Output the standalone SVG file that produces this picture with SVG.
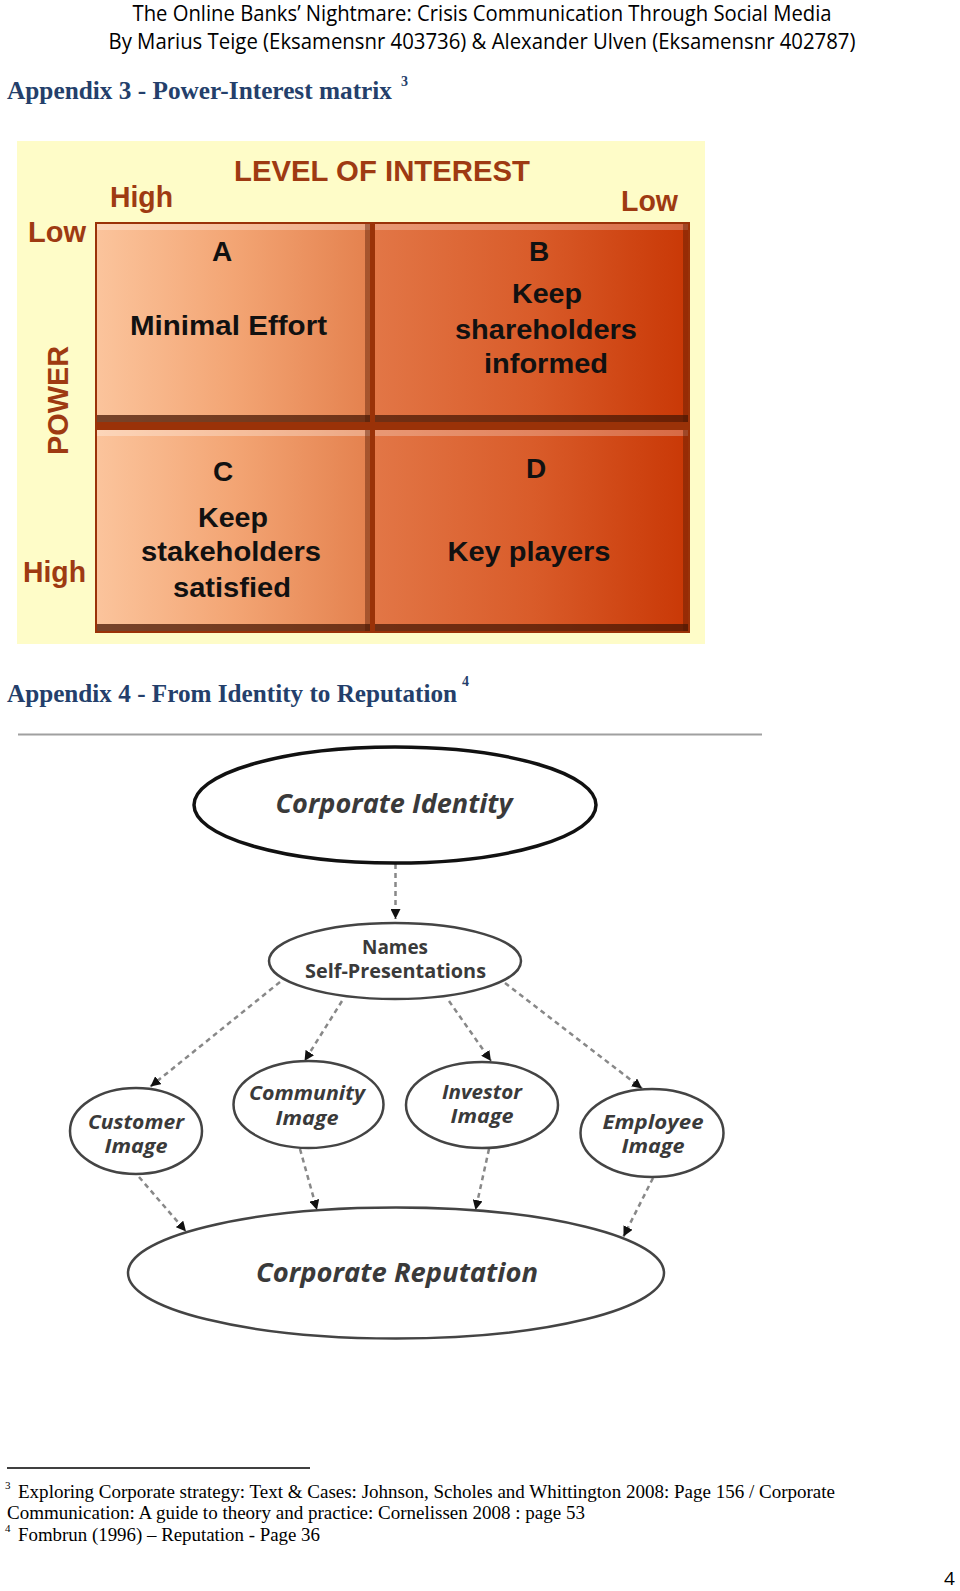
<svg xmlns="http://www.w3.org/2000/svg" width="960" height="1591" viewBox="0 0 960 1591">
<style>
.hdr{font-family:"Open Sans","Liberation Sans",sans-serif;font-size:21px;fill:#000}
.app{font-family:"Liberation Serif","Times New Roman",serif;font-weight:bold;font-size:26px;fill:#243f6b}
.sup{font-family:"Liberation Serif",serif;font-weight:bold;font-size:14px;fill:#243f6b}
.axis{font-family:"Liberation Sans",Arial,sans-serif;font-weight:bold;font-size:29px;fill:#9e3a12}
.cell{font-family:"Liberation Sans",Arial,sans-serif;font-weight:bold;font-size:28px;fill:#111;text-anchor:middle}
.g{font-family:"Open Sans","Liberation Sans",sans-serif;font-style:italic;font-weight:700;fill:#3a3a3a;text-anchor:middle}
.gn{font-family:"Open Sans","Liberation Sans",sans-serif;font-weight:700;fill:#3a3a3a;text-anchor:middle}
.ell{fill:#fff;stroke:#444;stroke-width:2.5}
.conn{stroke:#888;stroke-width:2.5;stroke-dasharray:5 4;fill:none}
.fn{font-family:"Liberation Serif","Times New Roman",serif;font-size:18px;fill:#000}
.fns{font-family:"Liberation Serif","Times New Roman",serif;font-size:11px;fill:#000}
</style>
<defs>
<linearGradient id="gl" x1="0" y1="0" x2="1" y2="0">
<stop offset="0" stop-color="#fbc49c"/><stop offset="0.5" stop-color="#f3a574"/><stop offset="1" stop-color="#e4814e"/>
</linearGradient>
<linearGradient id="gr" x1="0" y1="0" x2="1" y2="0">
<stop offset="0" stop-color="#e27646"/><stop offset="0.5" stop-color="#d95c2a"/><stop offset="1" stop-color="#c93806"/>
</linearGradient>
<marker id="ah" viewBox="0 0 10 10" refX="10" refY="5" markerWidth="4" markerHeight="4" orient="auto" markerUnits="strokeWidth">
<path d="M0,0 L10,5 L0,10 z" fill="#111"/>
</marker>
</defs>
<rect width="960" height="1591" fill="#fff"/>

<g id="header">
<text class="hdr" x="482" y="21" text-anchor="middle" textLength="699" lengthAdjust="spacingAndGlyphs">The Online Banks’ Nightmare: Crisis Communication Through Social Media</text>
<text class="hdr" x="482" y="49" text-anchor="middle" textLength="747" lengthAdjust="spacingAndGlyphs">By Marius Teige (Eksamensnr 403736) &amp; Alexander Ulven (Eksamensnr 402787)</text>
</g>

<g id="appendix3-title">
<text class="app" x="7" y="99" textLength="385" lengthAdjust="spacingAndGlyphs">Appendix 3 - Power-Interest matrix</text>
<text class="sup" x="401" y="86">3</text>
</g>

<g id="matrix">
<rect x="17" y="141" width="688" height="503" fill="#fefcc8"/>
<text class="axis" x="234" y="181" textLength="296" lengthAdjust="spacingAndGlyphs">LEVEL OF INTEREST</text>
<text class="axis" x="110" y="207" textLength="63" lengthAdjust="spacingAndGlyphs">High</text>
<text class="axis" x="621" y="211" textLength="57" lengthAdjust="spacingAndGlyphs">Low</text>
<text class="axis" x="28" y="242" textLength="58" lengthAdjust="spacingAndGlyphs">Low</text>
<text class="axis" x="23" y="582" textLength="63" lengthAdjust="spacingAndGlyphs">High</text>
<text class="axis" transform="translate(68,400.5) rotate(-90)" text-anchor="middle" textLength="109" lengthAdjust="spacingAndGlyphs" font-weight="normal">POWER</text>
<rect x="95" y="222" width="595" height="411" fill="#9a3208"/>
</g>

<g id="cellA">
<rect x="97" y="224" width="273" height="198" fill="url(#gl)"/>
<rect x="97" y="224" width="273" height="6" fill="#fff" opacity="0.3"/>
<rect x="365" y="224" width="5" height="198" fill="#5a1c04" opacity="0.45"/>
<rect x="97" y="415" width="273" height="7" fill="#4a1804" opacity="0.75"/>
<text class="cell" x="222" y="261">A</text>
<text class="cell" x="228.5" y="335" textLength="197" lengthAdjust="spacingAndGlyphs">Minimal Effort</text>
</g>

<g id="cellB">
<rect x="375" y="224" width="313" height="198" fill="url(#gr)"/>
<rect x="375" y="224" width="313" height="6" fill="#fff" opacity="0.25"/>
<rect x="683" y="224" width="5" height="198" fill="#5a1c04" opacity="0.45"/>
<rect x="375" y="415" width="313" height="7" fill="#4a1804" opacity="0.75"/>
<text class="cell" x="539" y="261">B</text>
<text class="cell" x="547" y="303" textLength="70" lengthAdjust="spacingAndGlyphs">Keep</text>
<text class="cell" x="546" y="339" textLength="182" lengthAdjust="spacingAndGlyphs">shareholders</text>
<text class="cell" x="546" y="373" textLength="124" lengthAdjust="spacingAndGlyphs">informed</text>
</g>

<g id="cellC">
<rect x="97" y="430" width="273" height="201" fill="url(#gl)"/>
<rect x="97" y="430" width="273" height="6" fill="#fff" opacity="0.3"/>
<rect x="365" y="430" width="5" height="201" fill="#5a1c04" opacity="0.45"/>
<rect x="97" y="624" width="273" height="7" fill="#4a1804" opacity="0.75"/>
<text class="cell" x="223" y="481">C</text>
<text class="cell" x="233" y="527" textLength="70" lengthAdjust="spacingAndGlyphs">Keep</text>
<text class="cell" x="231" y="561" textLength="180" lengthAdjust="spacingAndGlyphs">stakeholders</text>
<text class="cell" x="232" y="597" textLength="118" lengthAdjust="spacingAndGlyphs">satisfied</text>
</g>

<g id="cellD">
<rect x="375" y="430" width="313" height="201" fill="url(#gr)"/>
<rect x="375" y="430" width="313" height="6" fill="#fff" opacity="0.25"/>
<rect x="683" y="430" width="5" height="201" fill="#5a1c04" opacity="0.45"/>
<rect x="375" y="624" width="313" height="7" fill="#4a1804" opacity="0.75"/>
<text class="cell" x="536" y="478">D</text>
<text class="cell" x="529" y="561" textLength="163" lengthAdjust="spacingAndGlyphs">Key players</text>
</g>

<g id="appendix4-title">
<text class="app" x="7" y="702" textLength="450" lengthAdjust="spacingAndGlyphs">Appendix 4 - From Identity to Reputation</text>
<text class="sup" x="462" y="686">4</text>
<line x1="18" y1="734.5" x2="762" y2="734.5" stroke="#a0a0a0" stroke-width="2"/>
</g>

<g id="connectors">
<line class="conn" x1="395.5" y1="864" x2="395.5" y2="919" marker-end="url(#ah)"/>
<line class="conn" x1="280" y1="982" x2="150.5" y2="1086.5" marker-end="url(#ah)"/>
<line class="conn" x1="342" y1="1001" x2="304.5" y2="1061" marker-end="url(#ah)"/>
<line class="conn" x1="449" y1="1001" x2="491" y2="1061" marker-end="url(#ah)"/>
<line class="conn" x1="505" y1="983" x2="642" y2="1088.5" marker-end="url(#ah)"/>
<line class="conn" x1="139" y1="1177" x2="186" y2="1231.5" marker-end="url(#ah)"/>
<line class="conn" x1="300" y1="1149" x2="317" y2="1210" marker-end="url(#ah)"/>
<line class="conn" x1="489" y1="1149" x2="475.5" y2="1210" marker-end="url(#ah)"/>
<line class="conn" x1="653" y1="1178" x2="623.5" y2="1236.5" marker-end="url(#ah)"/>
</g>

<g id="corporate-identity">
<ellipse cx="395" cy="805" rx="201" ry="58" fill="#fff" stroke="#111" stroke-width="3.5"/>
<text class="g" x="394" y="813" font-size="27" textLength="237" lengthAdjust="spacingAndGlyphs">Corporate Identity</text>
</g>

<g id="names">
<ellipse class="ell" cx="395" cy="961" rx="126" ry="38"/>
<text class="gn" x="395" y="954" font-size="20" textLength="66" lengthAdjust="spacingAndGlyphs">Names</text>
<text class="gn" x="395.5" y="978" font-size="20" textLength="181" lengthAdjust="spacingAndGlyphs">Self-Presentations</text>
</g>

<g id="customer-image">
<ellipse class="ell" cx="136" cy="1131" rx="66" ry="43"/>
<text class="g" x="136" y="1129" font-size="20" textLength="96" lengthAdjust="spacingAndGlyphs">Customer</text>
<text class="g" x="136" y="1153" font-size="20" textLength="63" lengthAdjust="spacingAndGlyphs">Image</text>
</g>

<g id="community-image">
<ellipse class="ell" cx="308.5" cy="1104.5" rx="75" ry="43.5"/>
<text class="g" x="307" y="1100" font-size="20" textLength="116" lengthAdjust="spacingAndGlyphs">Community</text>
<text class="g" x="307" y="1125" font-size="20" textLength="63" lengthAdjust="spacingAndGlyphs">Image</text>
</g>

<g id="investor-image">
<ellipse class="ell" cx="482" cy="1105" rx="76" ry="43"/>
<text class="g" x="482" y="1099" font-size="20" textLength="80" lengthAdjust="spacingAndGlyphs">Investor</text>
<text class="g" x="482" y="1123" font-size="20" textLength="63" lengthAdjust="spacingAndGlyphs">Image</text>
</g>

<g id="employee-image">
<ellipse class="ell" cx="652" cy="1133" rx="71.5" ry="44"/>
<text class="g" x="653" y="1128.5" font-size="20" textLength="101" lengthAdjust="spacingAndGlyphs">Employee</text>
<text class="g" x="653" y="1153" font-size="20" textLength="63" lengthAdjust="spacingAndGlyphs">Image</text>
</g>

<g id="corporate-reputation">
<ellipse class="ell" cx="396" cy="1273" rx="268" ry="65.5"/>
<text class="g" x="397" y="1281.5" font-size="27" textLength="282" lengthAdjust="spacingAndGlyphs">Corporate Reputation</text>
</g>

<g id="footnotes">
<line x1="7" y1="1468" x2="310" y2="1468" stroke="#000" stroke-width="1.5"/>
<text class="fns" x="5" y="1489">3</text>
<text class="fn" x="18" y="1497.5" textLength="817" lengthAdjust="spacingAndGlyphs">Exploring Corporate strategy: Text &amp; Cases: Johnson, Scholes and Whittington 2008: Page 156 / Corporate</text>
<text class="fn" x="7" y="1519" textLength="578" lengthAdjust="spacingAndGlyphs">Communication: A guide to theory and practice: Cornelissen 2008 : page 53</text>
<text class="fns" x="5" y="1532">4</text>
<text class="fn" x="18" y="1540.5" textLength="302" lengthAdjust="spacingAndGlyphs">Fombrun (1996) – Reputation - Page 36</text>
</g>

<g id="page-number">
<text x="944" y="1585" font-family="Open Sans, Liberation Sans, sans-serif" font-size="19" fill="#000">4</text>
</g>
</svg>
